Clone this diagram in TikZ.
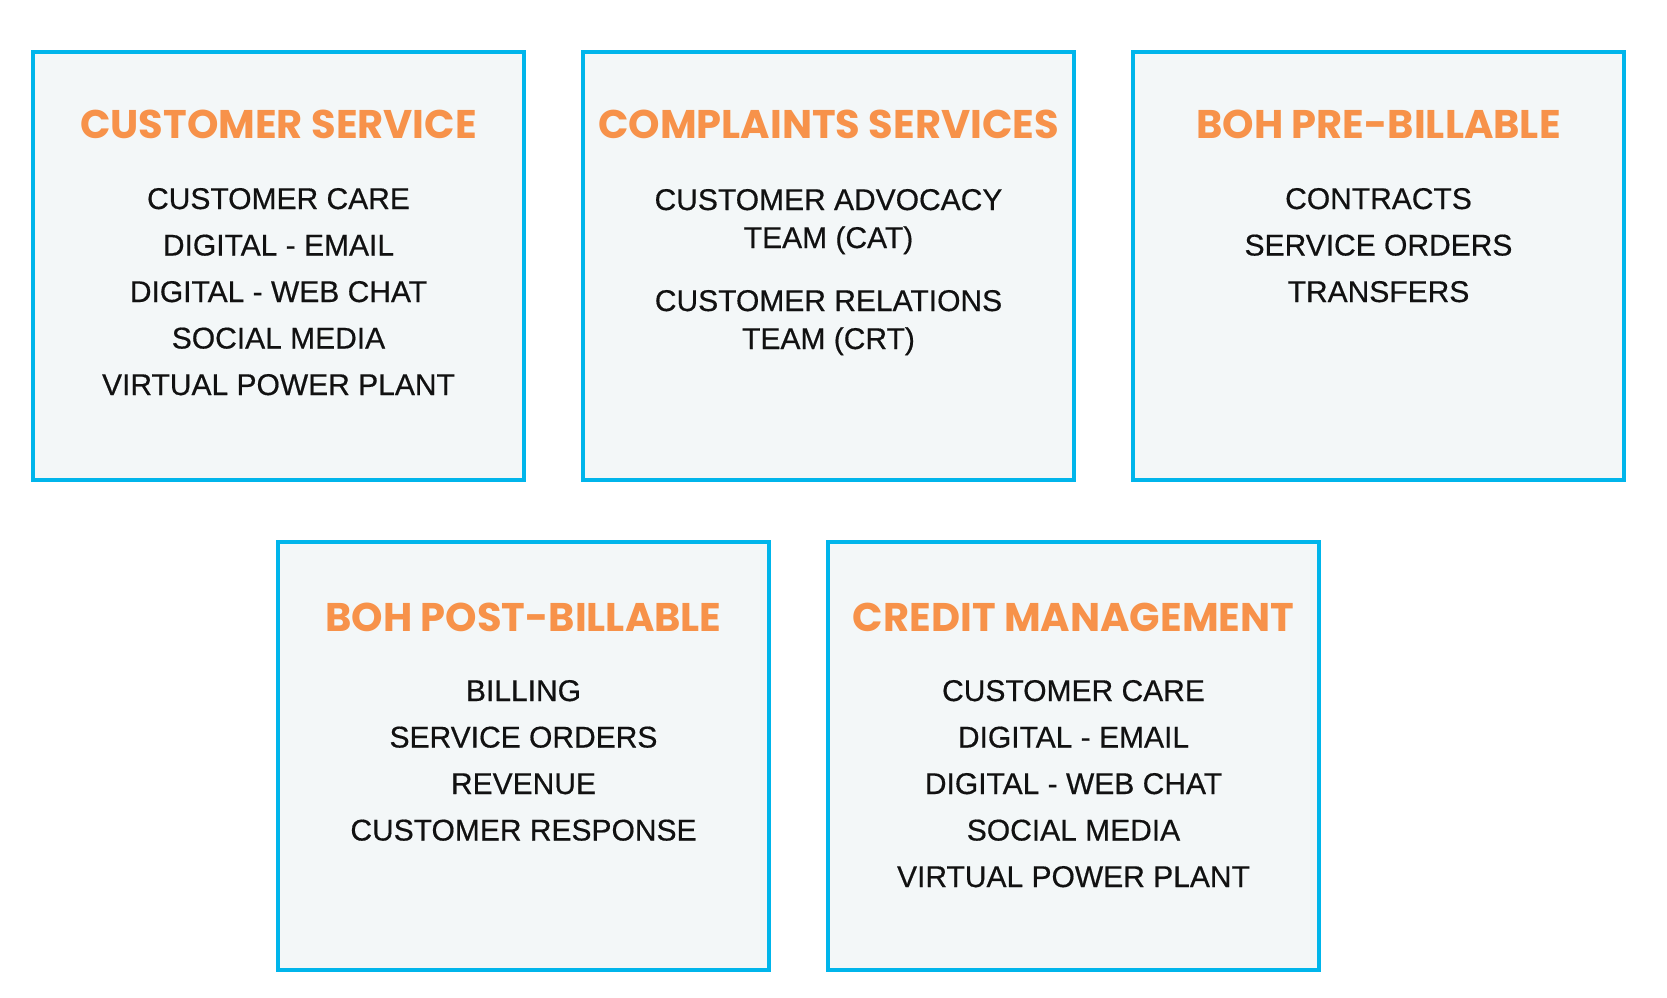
\documentclass[tikz,border=0pt]{standalone}
\usepackage{fontspec}
\setmainfont{Liberation Sans}[FakeBold=0.5]
\newfontfamily\titlefont{Poppins}
\definecolor{boxcyan}{HTML}{00B5EB}
\definecolor{boxfill}{HTML}{F3F7F8}
\definecolor{titleorange}{HTML}{F7924A}
\definecolor{bodyblack}{HTML}{111111}
\begin{document}
\begin{tikzpicture}[x=1pt,y=-1pt,
  panel/.style={draw=boxcyan, line width=4pt, fill=boxfill, minimum width=491pt, minimum height=428pt, inner sep=0pt},
  paneltitle/.style={anchor=base, inner sep=0pt, text=titleorange, font=\titlefont\bfseries\fontsize{40}{42}\selectfont},
  item/.style={anchor=base, inner sep=0pt, text=bodyblack, font=\fontsize{30}{34}\selectfont}]
\useasboundingbox[fill=white] (0,0) rectangle (1667,998);
% boxes
\node[panel] (cs) at (278.5,266) {};
\node[panel] (cp) at (828.5,266) {};
\node[panel] (pre) at (1378.5,266) {};
\node[panel] (post) at (523.5,756) {};
\node[panel] (cm) at (1073.5,756) {};
% titles
\node[paneltitle] (cst) at (278.5,138.5) {CUSTOMER SERVICE};
\node[paneltitle] (cpt) at (828.5,138.5) {COMPLAINTS SERVICES};
\node[paneltitle] (pret) at (1378.5,138.5) {BOH PRE-BILLABLE};
\node[paneltitle] (postt) at (523.5,631.5) {BOH POST-BILLABLE};
\node[paneltitle] (cmt) at (1073.5,631.5) {CREDIT MANAGEMENT};
% customer service
\node[item] (cs1) at (278.5,209) {CUSTOMER CARE};
\node[item] (cs2) at (278.5,255.5) {DIGITAL - EMAIL};
\node[item] (cs3) at (278.5,302) {DIGITAL - WEB CHAT};
\node[item] (cs4) at (278.5,348.5) {SOCIAL MEDIA};
\node[item] (cs5) at (278.5,395) {VIRTUAL POWER PLANT};
% complaints
\node[item] (cp1) at (828.5,210) {CUSTOMER ADVOCACY};
\node[item] (cp2) at (828.5,248) {TEAM (CAT)};
\node[item] (cp3) at (828.5,311) {CUSTOMER RELATIONS};
\node[item] (cp4) at (828.5,349) {TEAM (CRT)};
% pre-billable
\node[item] (pre1) at (1378.5,209) {CONTRACTS};
\node[item] (pre2) at (1378.5,255.5) {SERVICE ORDERS};
\node[item] (pre3) at (1378.5,302) {TRANSFERS};
% post-billable
\node[item] (post1) at (523.5,701) {BILLING};
\node[item] (post2) at (523.5,747.5) {SERVICE ORDERS};
\node[item] (post3) at (523.5,794) {REVENUE};
\node[item] (post4) at (523.5,840.5) {CUSTOMER RESPONSE};
% credit management
\node[item] (cm1) at (1073.5,701) {CUSTOMER CARE};
\node[item] (cm2) at (1073.5,747.5) {DIGITAL - EMAIL};
\node[item] (cm3) at (1073.5,794) {DIGITAL - WEB CHAT};
\node[item] (cm4) at (1073.5,840.5) {SOCIAL MEDIA};
\node[item] (cm5) at (1073.5,887) {VIRTUAL POWER PLANT};
\end{tikzpicture}
\end{document}
